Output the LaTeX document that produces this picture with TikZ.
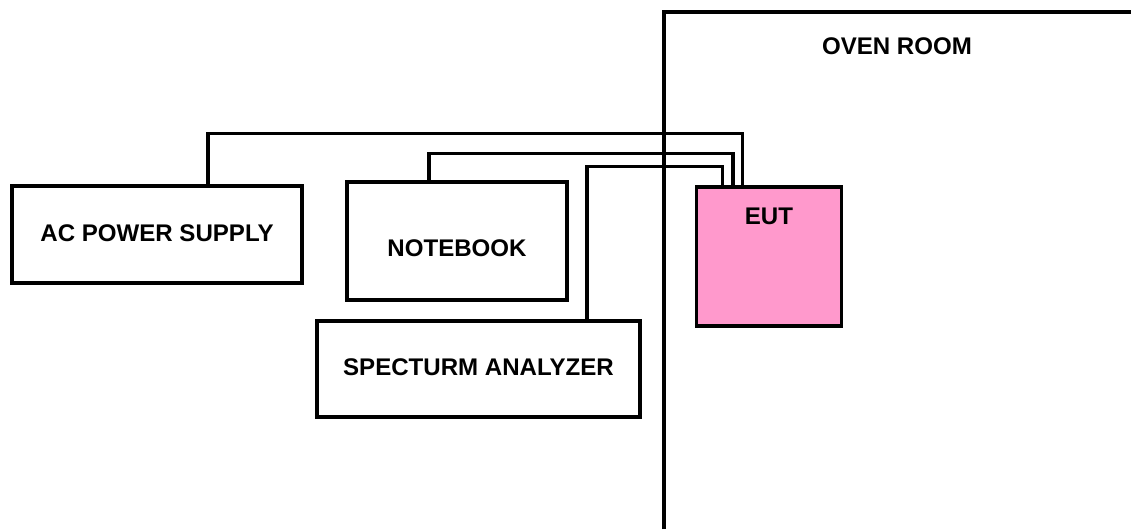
\documentclass[tikz,border=0pt]{standalone}
\usepackage{fontspec}
\setmainfont{Liberation Sans}
\usepackage{xcolor}
\definecolor{eutpink}{HTML}{FF99CC}
\usepackage{tikz}
\usetikzlibrary{positioning,calc}

\begin{document}
\begin{tikzpicture}[
    unit/.style={draw=black, line width=2pt, rectangle, inner sep=0pt,
      font=\fontsize{13.7}{16}\selectfont\bfseries},
    cable/.style={draw=black, line width=1.8pt},
    wall/.style={draw=black, line width=2pt}]
  \useasboundingbox (0,0) rectangle (22.62,-10.58);
  % Oven room wall
  \draw[wall] (13.28,-10.58) -- (13.28,-0.24) -- (22.62,-0.24);
  \node[font=\fontsize{13.7}{16}\selectfont\bfseries] (oven) at (17.94,-0.92) {OVEN ROOM};
  % Outside equipment
  \node[unit, minimum width=5.8cm, minimum height=1.94cm] (supply) at (3.14,-4.69) {\raisebox{0.04cm}{AC POWER SUPPLY}};
  \node[unit, minimum width=4.4cm, minimum height=2.36cm] (notebook) at (9.14,-4.82) {\raisebox{-0.61cm}{NOTEBOOK}};
  \node[unit, minimum width=6.46cm, minimum height=1.92cm] (analyzer) at (9.57,-7.38) {\raisebox{0.07cm}{SPECTURM ANALYZER}};
  % EUT inside the oven
  \node[unit, fill=eutpink, minimum width=2.9cm, minimum height=2.78cm,
    label={[font=\fontsize{13.7}{16}\selectfont\bfseries, anchor=north, yshift=-0.32cm]north:EUT}] (eut) at (15.38,-5.13) {};
  % Cables
  \draw[cable] ([xshift=1.02cm]supply.north) -- ++(0,1.02) -| ([xshift=-0.53cm]eut.north);
  \draw[cable] ([xshift=-0.56cm]notebook.north) -- ++(0,0.54) -| ([xshift=-0.72cm]eut.north);
  \draw[cable] ([xshift=2.17cm]analyzer.north) -- ++(0,3.06) -| ([xshift=-0.93cm]eut.north);
\end{tikzpicture}
\end{document}
